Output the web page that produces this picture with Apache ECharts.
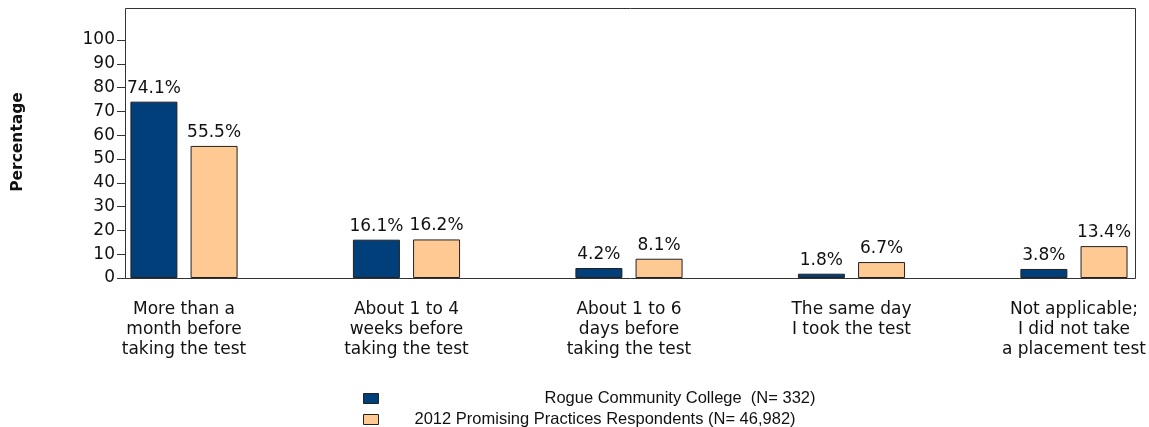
<!DOCTYPE html>
<html>
<head>
<meta charset="utf-8">
<script src="https://cdn.jsdelivr.net/npm/echarts@6/dist/echarts.min.js"></script>
<style>html,body{margin:0;padding:0;background:#fff;}#c{width:1149px;height:427px;}</style>
</head>
<body>
<div id="c"></div>
<script>
var categories = [
  'More than a\nmonth before\ntaking the test',
  'About 1 to 4\nweeks before\ntaking the test',
  'About 1 to 6\ndays before\ntaking the test',
  'The same day\nI took the test',
  'Not applicable;\nI did not take\na placement test'
];
var seriesNames = ['Rogue Community College  (N= 332)', '2012 Promising Practices Respondents (N= 46,982)'];
var rogueValues = [74.1, 16.1, 4.2, 1.8, 3.8];
var promisingValues = [55.5, 16.2, 8.1, 6.7, 13.4];
var yTicks = {min: 0, max: 100, interval: 10};
var yTitle = 'Percentage';

var FONT = '"Liberation Sans", Arial, sans-serif';
var WFONT = '"DejaVu Sans", "Liberation Sans", sans-serif';
var chart = echarts.init(document.getElementById('c'), null, {renderer: 'canvas'});
function lbl(p){ return p.value.toFixed(1) + '%'; }
var barLabel = {show: true, position: 'top', distance: 5, formatter: lbl, fontFamily: WFONT, fontSize: 17, color: '#111'};
chart.setOption({
  animation: false,
  backgroundColor: '#fff',
  textStyle: {fontFamily: FONT},
  grid: {left: 184, right: 73, top: 40, bottom: 149, containLabel: false},
  legend: [
    {data: [seriesNames[0]], left: 358, top: 385, itemWidth: 15, itemHeight: 10,
     icon: 'rect', itemStyle: {borderColor: '#222', borderWidth: 1},
     textStyle: {fontFamily: FONT, fontSize: 16.5, color: '#111', padding: [0, 0, 0, 161]}},
    {data: [seriesNames[1]], left: 358, top: 406, itemWidth: 15, itemHeight: 10,
     icon: 'rect', itemStyle: {borderColor: '#222', borderWidth: 1},
     textStyle: {fontFamily: FONT, fontSize: 16.5, color: '#111', padding: [0, 0, 0, 31]}}
  ],
  xAxis: {
    type: 'category', data: categories, boundaryGap: false,
    axisLine: {show: false}, axisTick: {show: false},
    axisLabel: {interval: 0, fontFamily: WFONT, fontSize: 17, lineHeight: 20, margin: 22, color: '#111'}
  },
  yAxis: {
    type: 'value', min: yTicks.min, max: yTicks.max, interval: yTicks.interval, offset: 59,
    axisLine: {show: true, lineStyle: {color: '#333', width: 1}},
    axisTick: {show: true, inside: false, length: 8, lineStyle: {color: '#333'}},
    axisLabel: {fontFamily: WFONT, fontSize: 17, color: '#111', margin: 10},
    splitLine: {show: false}
  },
  graphic: [
    {type: 'rect', z: 0, silent: true, shape: {x: 125.5, y: 8.5, width: 1010, height: 270},
     style: {fill: 'none', stroke: '#333', lineWidth: 1}},
    {type: 'text', x: 18, y: 142, rotation: Math.PI / 2, silent: true,
     style: {text: yTitle, fontFamily: WFONT, fontSize: 15.5, fontWeight: 'bold', fill: '#111', align: 'center', verticalAlign: 'middle'}}
  ],
  series: [
    {name: seriesNames[0], type: 'bar', data: rogueValues, barWidth: 47, barGap: '28%', clip: false,
     itemStyle: {color: '#003F7A', borderColor: '#222', borderWidth: 1}, label: barLabel},
    {name: seriesNames[1], type: 'bar', data: promisingValues, barWidth: 47, barGap: '28%', clip: false,
     itemStyle: {color: '#FFC994', borderColor: '#222', borderWidth: 1}, label: barLabel}
  ]
});
</script>
</body>
</html>
